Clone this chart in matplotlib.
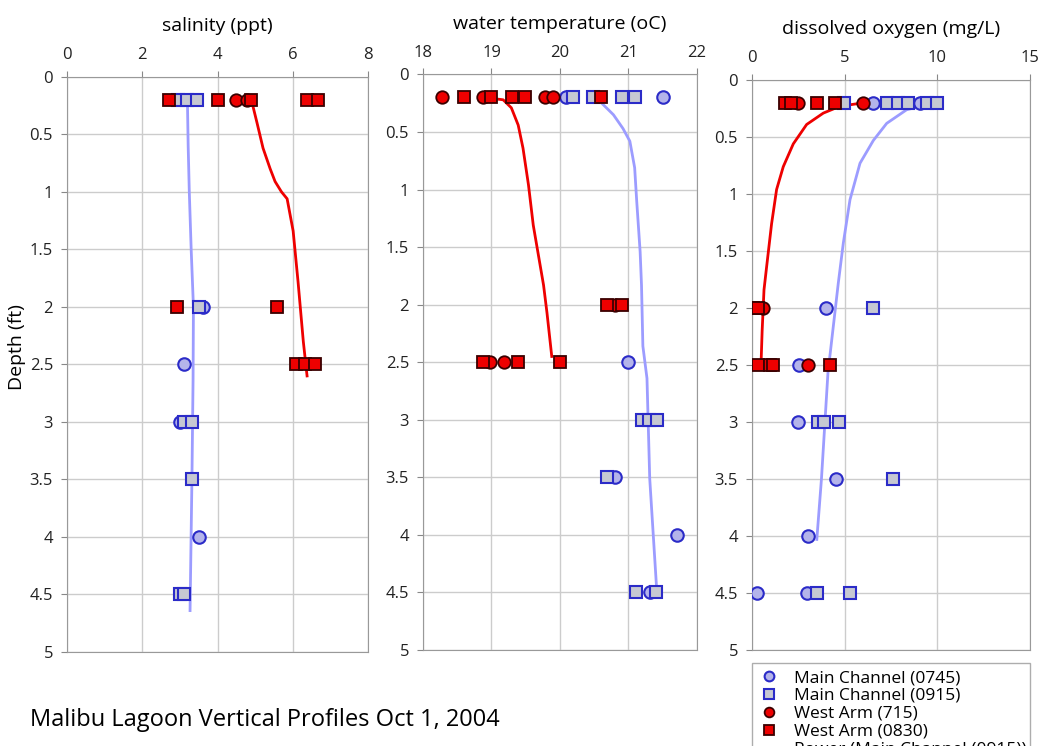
import matplotlib.pyplot as plt
from matplotlib.lines import Line2D

plt.rcParams['font.family'] = ['Open Sans', 'DejaVu Sans']

# ---- salinity (ppt) ----
sal_mc0745_x = [3.62, 3.11, 3.0, 3.51]
sal_mc0745_d = [2.0, 2.5, 3.0, 4.0]
sal_mc0915_x = [2.95, 3.2, 3.46, 3.51, 3.11, 3.32, 3.32, 3.0, 3.11]
sal_mc0915_d = [0.2, 0.2, 0.2, 2.0, 3.0, 3.0, 3.5, 4.5, 4.5]
sal_wa715_x = [4.49, 4.79]
sal_wa715_d = [0.2, 0.2]
sal_wa0830_x = [2.71, 4.02, 4.9, 6.38, 6.68, 2.92, 5.59, 6.09, 6.33, 6.6]
sal_wa0830_d = [0.2, 0.2, 0.2, 0.2, 0.2, 2.0, 2.0, 2.5, 2.5, 2.5]
sal_fit_red_x = [4.9, 5.05, 5.21, 5.4, 5.53, 5.7, 5.85, 6.01, 6.14, 6.28, 6.38]
sal_fit_red_d = [0.2, 0.4, 0.62, 0.8, 0.91, 1.0, 1.06, 1.34, 1.78, 2.3, 2.6]
sal_fit_blue_x = [3.2, 3.22, 3.25, 3.3, 3.36, 3.35, 3.32, 3.27]
sal_fit_blue_d = [0.2, 0.6, 1.0, 1.5, 2.0, 2.64, 3.5, 4.64]

# ---- water temperature (oC) ----
tmp_mc0745_x = [20.09, 21.5, 20.99, 20.8, 21.71, 21.31]
tmp_mc0745_d = [0.2, 0.2, 2.5, 3.5, 4.0, 4.5]
tmp_mc0915_x = [20.19, 20.48, 20.9, 21.1, 21.2, 21.3, 21.42, 20.69, 21.11, 21.4]
tmp_mc0915_d = [0.2, 0.2, 0.2, 0.2, 3.0, 3.0, 3.0, 3.5, 4.5, 4.5]
tmp_wa715_x = [18.28, 18.88, 19.78, 19.9, 20.8, 18.98, 19.18]
tmp_wa715_d = [0.2, 0.2, 0.2, 0.2, 2.0, 2.5, 2.5]
tmp_wa0830_x = [18.6, 19.0, 19.3, 19.49, 20.6, 20.69, 20.9, 18.88, 19.39, 20.0]
tmp_wa0830_d = [0.2, 0.2, 0.2, 0.2, 0.2, 2.0, 2.0, 2.5, 2.5, 2.5]
tmp_fit_red_x = [19.03, 19.17, 19.29, 19.39, 19.46, 19.54, 19.61, 19.76, 19.81, 19.88]
tmp_fit_red_d = [0.21, 0.22, 0.29, 0.44, 0.64, 0.96, 1.31, 1.83, 2.07, 2.45]
tmp_fit_blue_x = [20.61, 20.78, 20.92, 21.02, 21.09, 21.12, 21.17, 21.19, 21.21, 21.27,
                  21.31, 21.41]
tmp_fit_blue_d = [0.25, 0.35, 0.47, 0.58, 0.81, 1.1, 1.54, 1.83, 2.36, 2.64, 3.51, 4.46]

# ---- dissolved oxygen (mg/L) ----
do_mc0745_x = [6.54, 9.07, 3.99, 2.55, 2.5, 4.52, 3.0, 0.28, 2.98]
do_mc0745_d = [0.2, 0.2, 2.0, 2.5, 3.0, 3.5, 4.0, 4.5, 4.5]
do_mc0915_x = [4.97, 7.27, 7.88, 8.42, 9.43, 9.97, 6.54, 3.57, 3.88, 4.7, 7.63, 3.5, 5.3]
do_mc0915_d = [0.2, 0.2, 0.2, 0.2, 0.2, 0.2, 2.0, 3.0, 3.0, 3.0, 3.5, 4.5, 4.5]
do_wa715_x = [2.49, 6.0, 0.6, 3.0]
do_wa715_d = [0.2, 0.2, 2.0, 2.5]
do_wa0830_x = [1.8, 2.1, 3.5, 4.48, 0.07, 0.35, 0.3, 0.97, 1.15, 4.2]
do_wa0830_d = [0.2, 0.2, 0.2, 0.2, 2.0, 2.0, 2.5, 2.5, 2.5, 2.5]
do_fit_red_x = [6.0, 4.75, 3.85, 2.95, 2.23, 1.69, 1.33, 1.06, 0.79, 0.65, 0.55, 0.48]
do_fit_red_d = [0.2, 0.23, 0.29, 0.39, 0.56, 0.76, 0.96, 1.26, 1.64, 1.84, 2.2, 2.54]
do_fit_blue_x = [10.0, 9.43, 8.35, 7.27, 6.55, 5.83, 5.29, 4.93, 4.66, 4.1, 3.75, 3.5]
do_fit_blue_d = [0.2, 0.22, 0.26, 0.38, 0.53, 0.73, 1.05, 1.43, 1.78, 2.57, 3.5, 4.03]

legend_labels = ["Main Channel (0745)", "Main Channel (0915)", "West Arm (715)",
                 "West Arm (0830)", "Power (Main Channel (0915))"]

BLUE_EDGE = '#2b2bc8'
BLUE_FILL = '#b4b4ea'
GREY_FILL = '#c6c8d2'
RED = '#ee0000'
BLUE_LINE = '#9c9cff'

fig = plt.figure(figsize=(10.47, 7.46), dpi=100)

panels = [
    dict(pos=[0.064, 0.126, 0.2875, 0.771], xlim=(0, 8), xticks=[0, 2, 4, 6, 8],
         title="salinity (ppt)",
         data=(sal_mc0745_x, sal_mc0745_d, sal_mc0915_x, sal_mc0915_d,
               sal_wa715_x, sal_wa715_d, sal_wa0830_x, sal_wa0830_d),
         fits=(sal_fit_red_x, sal_fit_red_d, sal_fit_blue_x, sal_fit_blue_d)),
    dict(pos=[0.404, 0.1287, 0.2617, 0.7715], xlim=(18, 22), xticks=[18, 19, 20, 21, 22],
         title="water temperature (oC)",
         data=(tmp_mc0745_x, tmp_mc0745_d, tmp_mc0915_x, tmp_mc0915_d,
               tmp_wa715_x, tmp_wa715_d, tmp_wa0830_x, tmp_wa0830_d),
         fits=(tmp_fit_red_x, tmp_fit_red_d, tmp_fit_blue_x, tmp_fit_blue_d)),
    dict(pos=[0.7182, 0.1287, 0.2655, 0.764], xlim=(0, 15), xticks=[0, 5, 10, 15],
         title="dissolved oxygen (mg/L)",
         data=(do_mc0745_x, do_mc0745_d, do_mc0915_x, do_mc0915_d,
               do_wa715_x, do_wa715_d, do_wa0830_x, do_wa0830_d),
         fits=(do_fit_red_x, do_fit_red_d, do_fit_blue_x, do_fit_blue_d)),
]

yticks = [0, 0.5, 1, 1.5, 2, 2.5, 3, 3.5, 4, 4.5, 5]
ylabels = ['0', '0.5', '1', '1.5', '2', '2.5', '3', '3.5', '4', '4.5', '5']

for i, p in enumerate(panels):
    ax = fig.add_axes(p['pos'])
    c_x, c_d, s_x, s_d, rc_x, rc_d, rs_x, rs_d = p['data']
    fr_x, fr_d, fb_x, fb_d = p['fits']

    ax.plot(fb_x, fb_d, color=BLUE_LINE, lw=2, zorder=3)
    ax.plot(fr_x, fr_d, color=RED, lw=2, zorder=3)
    ax.plot(c_x, c_d, 'o', ms=9, mfc=BLUE_FILL, mec=BLUE_EDGE, mew=1.5, ls='none', zorder=4)
    ax.plot(s_x, s_d, 's', ms=9, mfc=GREY_FILL, mec=BLUE_EDGE, mew=1.5, ls='none', zorder=4)
    ax.plot(rc_x, rc_d, 'o', ms=9, mfc=RED, mec='#3a0000', mew=1.3, ls='none', zorder=5)
    ax.plot(rs_x, rs_d, 's', ms=9, mfc=RED, mec='#3a0000', mew=1.3, ls='none', zorder=5)

    ax.set_xlim(*p['xlim'])
    ax.set_ylim(5, 0)
    ax.set_xticks(p['xticks'])
    ax.set_yticks(yticks)
    ax.set_yticklabels(ylabels)
    ax.xaxis.tick_top()
    ax.xaxis.set_label_position('top')
    ax.tick_params(labelsize=12, colors='#222222', length=4, color='#888888', pad=6)
    ax.grid(True, color='#cccccc', lw=1)
    ax.set_axisbelow(True)
    for s in ax.spines.values():
        s.set_color('#999999')
    ax.set_title(p['title'], fontsize=14, pad=33)
    if i == 0:
        ax.set_ylabel("Depth (ft)", fontsize=14)
        ax.yaxis.set_label_coords(-0.135, 0.53)

handles = [
    Line2D([], [], marker='o', ls='none', ms=7, mfc=BLUE_FILL, mec=BLUE_EDGE, mew=1.5),
    Line2D([], [], marker='s', ls='none', ms=7, mfc=GREY_FILL, mec=BLUE_EDGE, mew=1.5),
    Line2D([], [], marker='o', ls='none', ms=7, mfc=RED, mec='#3a0000', mew=1.3),
    Line2D([], [], marker='s', ls='none', ms=7, mfc=RED, mec='#3a0000', mew=1.3),
    Line2D([], [], color=BLUE_LINE, lw=2),
]
leg = fig.legend(handles, legend_labels, loc='upper left',
                 bbox_to_anchor=(752 / 1047, (746 - 663) / 746, 278 / 1047, 0),
                 mode='expand', fontsize=12.5, frameon=True, fancybox=False,
                 edgecolor='#999999', labelspacing=0.1, handlelength=1.2,
                 handletextpad=0.8, borderpad=0.4, borderaxespad=0)

fig.text(30 / 1047, 1 - 720 / 746, "Malibu Lagoon Vertical Profiles Oct 1, 2004",
         fontsize=17, va='center', ha='left')

fig.savefig("out.png", dpi=100)
